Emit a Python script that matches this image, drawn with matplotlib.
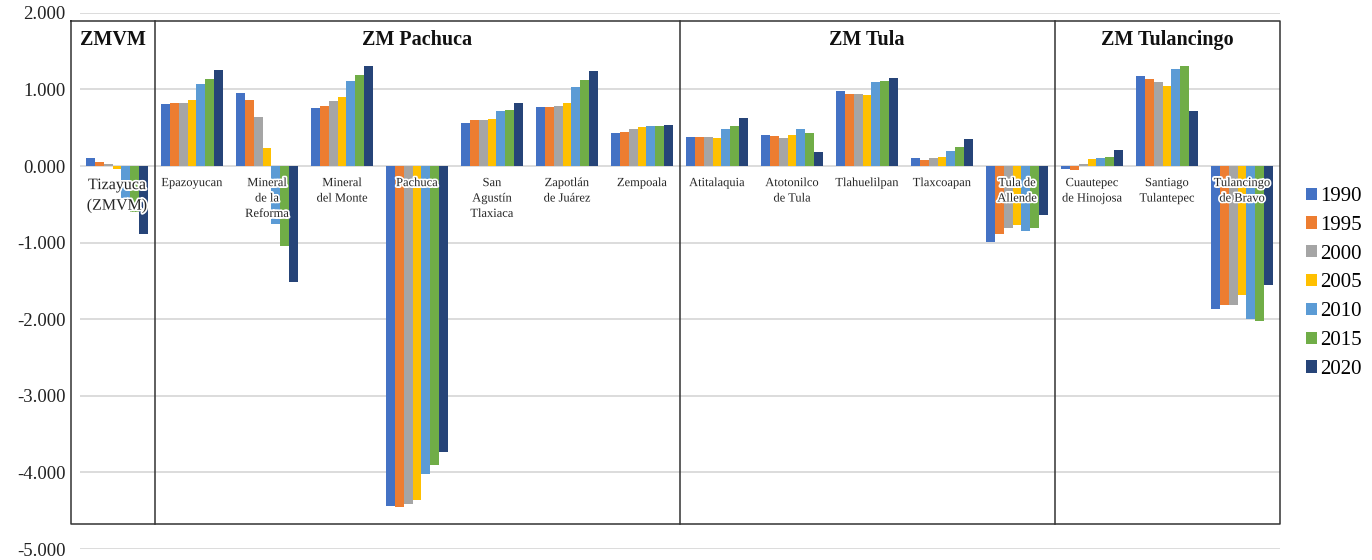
import matplotlib
matplotlib.use("Agg")
import matplotlib.pyplot as plt
import matplotlib.patheffects as pe
from matplotlib.ticker import FuncFormatter
import numpy as np

plt.rcParams['font.family'] = ['Liberation Serif', 'DejaVu Serif']

# Municipalities, grouped by metropolitan zone
municipios = [
    "Tizayuca\n(ZMVM)", "Epazoyucan", "Mineral\nde la\nReforma", "Mineral\ndel Monte",
    "Pachuca", "San\nAgustín\nTlaxiaca", "Zapotlán\nde Juárez", "Zempoala",
    "Atitalaquia", "Atotonilco\nde Tula", "Tlahuelilpan", "Tlaxcoapan", "Tula de\nAllende",
    "Cuautepec\nde Hinojosa", "Santiago\nTulantepec", "Tulancingo\nde Bravo",
]
zonas = ["ZMVM", "ZM Pachuca", "ZM Tula", "ZM Tulancingo"]
zona_sizes = [1, 7, 5, 3]

years = ["1990", "1995", "2000", "2005", "2010", "2015", "2020"]
v1990 = [0.105, 0.810, 0.956, 0.760, -4.435, 0.563, 0.773, 0.432, 0.380, 0.406, 0.983, 0.105, -0.990, -0.040, 1.179, -1.870]
v1995 = [0.052, 0.825, 0.865, 0.786, -4.450, 0.603, 0.773, 0.445, 0.380, 0.393, 0.943, 0.079, -0.890, -0.052, 1.140, -1.810]
v2000 = [0.026, 0.825, 0.642, 0.852, -4.410, 0.603, 0.786, 0.485, 0.380, 0.367, 0.943, 0.105, -0.810, 0.026, 1.100, -1.810]
v2005 = [-0.035, 0.865, 0.236, 0.904, -4.360, 0.616, 0.825, 0.511, 0.367, 0.406, 0.930, 0.118, -0.770, 0.092, 1.048, -1.680]
v2010 = [-0.420, 1.074, -0.760, 1.114, -4.020, 0.720, 1.035, 0.524, 0.485, 0.485, 1.100, 0.197, -0.850, 0.105, 1.270, -2.000]
v2015 = [-0.600, 1.140, -1.050, 1.192, -3.900, 0.734, 1.127, 0.524, 0.524, 0.432, 1.114, 0.249, -0.810, 0.118, 1.310, -2.020]
v2020 = [-0.890, 1.258, -1.520, 1.310, -3.740, 0.825, 1.245, 0.537, 0.629, 0.183, 1.153, 0.354, -0.640, 0.210, 0.720, -1.550]
series = [v1990, v1995, v2000, v2005, v2010, v2015, v2020]
colors = ["#4472C4", "#ED7D31", "#A5A5A5", "#FFC000", "#5B9BD5", "#70AD47", "#264478"]

fig = plt.figure(figsize=(13.72, 5.6), dpi=100)
ax = fig.add_axes([0.05795, 0.01964, 0.87464, 0.9575])

x = np.arange(len(municipios))
bw = 0.118
for i, (vals, c, yr) in enumerate(zip(series, colors, years)):
    ax.bar(x + (i - 3) * bw, vals, width=bw, color=c, label=yr, zorder=2, linewidth=0)

ax.set_xlim(-0.5, len(municipios) - 0.5)
ax.set_ylim(-5, 2)
ax.set_yticks(np.arange(-5, 3, 1))
ax.yaxis.set_major_formatter(FuncFormatter(lambda v, p: f"{v:.3f}"))
ax.set_xticks([])
ax.tick_params(axis='y', length=0, pad=10, labelsize=13.5, labelcolor="#222222")
ax.grid(axis='y', color="#d9d9d9", linewidth=1.3, zorder=0)
ax.set_axisbelow(True)
for s in ax.spines.values():
    s.set_visible(False)

# Category labels just under the zero line, with a white halo
halo = [pe.withStroke(linewidth=2.5, foreground="white")]
for xi, name in zip(x, municipios):
    fs = 11.5 if name.startswith("Tizayuca") else 9
    ax.annotate(name, (xi, 0), xytext=(0, -8), textcoords="offset points",
                ha="center", va="top", fontsize=fs, color="#262626",
                linespacing=1.38, path_effects=halo, zorder=5)

# Zone boxes
box_left, box_right = -0.613, 15.507
box_top, box_bottom = 1.893, -4.674
lc, lw = "#333333", 1.1
ax.plot([box_left, box_right, box_right, box_left, box_left],
        [box_top, box_top, box_bottom, box_bottom, box_top],
        color=lc, lw=lw, clip_on=False, zorder=4)
edges = np.cumsum(zona_sizes) - 0.5
lefts = [box_left] + list(edges[:-1])
rights = list(edges[:-1]) + [box_right]
for e in edges[:-1]:
    ax.plot([e, e], [box_bottom, box_top], color=lc, lw=lw, clip_on=False, zorder=4)
for z, l, r in zip(zonas, lefts, rights):
    ax.text((l + r) / 2, 1.65, z, ha="center", va="center", fontsize=14.5,
            fontweight="bold", color="#111111", zorder=6)

ax.legend(loc="upper left", bbox_to_anchor=(1.022, 0.675), frameon=False,
          fontsize=15, handlelength=0.53, handleheight=0.53, handletextpad=0.15,
          labelspacing=0.47, borderaxespad=0, borderpad=0)

fig.savefig("out.png", dpi=100)
